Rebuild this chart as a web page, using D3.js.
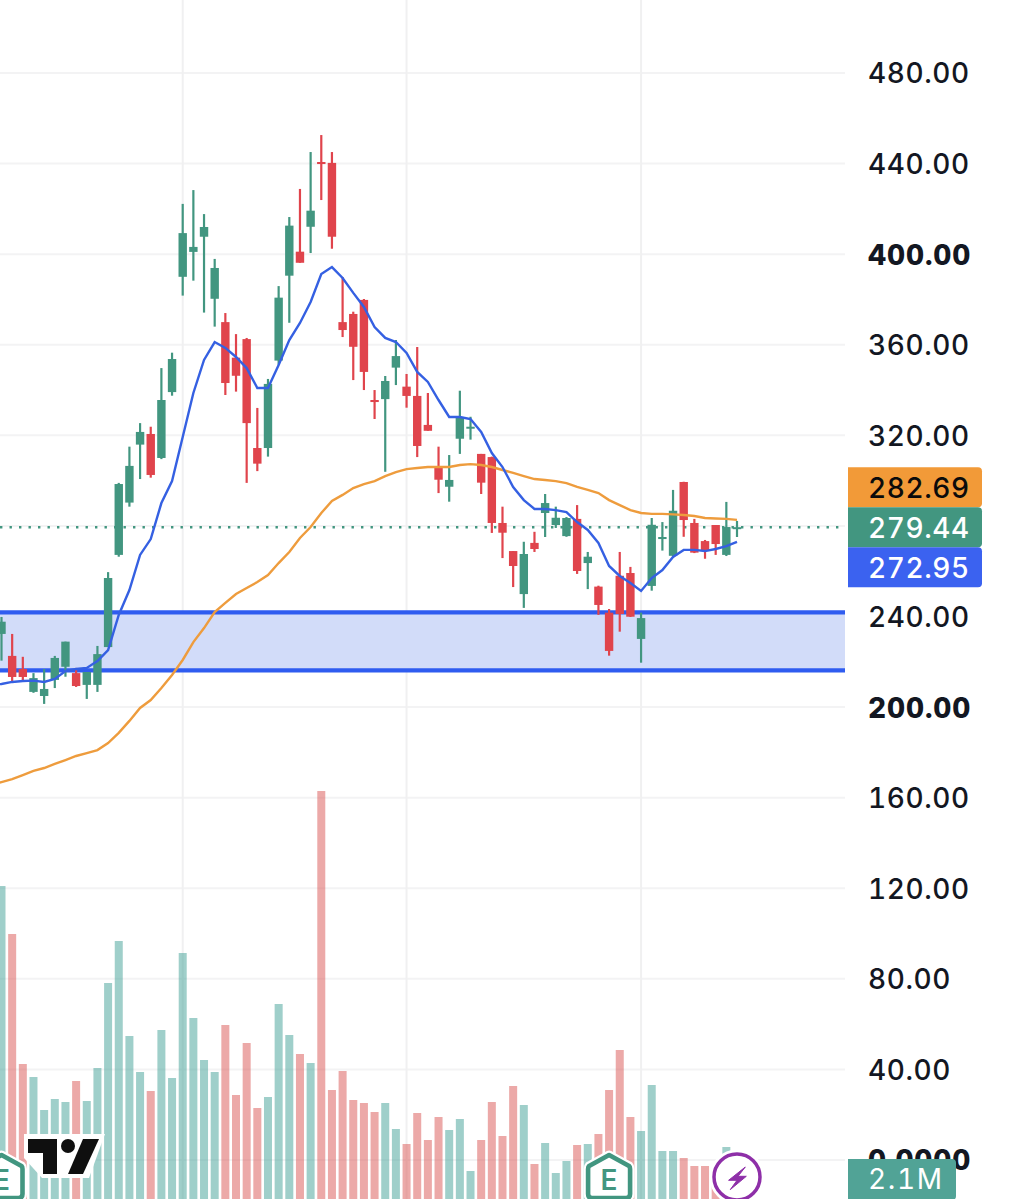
<!DOCTYPE html>
<html>
<head>
<meta charset="utf-8">
<title>chart</title>
<script src="https://cdn.jsdelivr.net/npm/d3@7/dist/d3.min.js"></script>
<style>
body { margin: 0; background: #fff; }
svg { display: block; font-family: Inter, sans-serif; font-variant-numeric: tabular-nums; }
</style>
</head>
<body>
<svg width="1010" height="1199"></svg>
<script>
// Candles
var opens = [232.3,222.6,216.8,206.7,204.9,212.0,217.8,215.0,209.8,209.8,
    226.5,267.2,290.3,315.9,320.6,310.0,339.1,390.0,401.0,407.7,
    380.3,370.0,354.3,362.5,314.4,314.4,353.0,390.5,401.1,412.1,
    440.7,440.3,370.0,373.6,379.8,335.6,336.0,349.9,341.5,337.4,
    324.6,306.1,297.3,318.5,323.2,311.8,310.4,281.3,268.9,249.9,
    272.5,285.7,280.4,275.5,283.1,263.6,253.2,241.7,258.0,259.2,
    230.1,253.5,274.2,266.8,299.4,281.3,273.3,280.4,267.2,278.8];
var closes = [237.7,213.3,213.3,212.8,208.0,221.7,228.9,209.3,215.5,223.4,
    257.0,298.5,306.5,321.5,302.5,335.6,353.7,409.3,403.2,412.0,
    393.9,343.1,346.3,325.4,307.5,342.7,380.8,412.6,396.2,419.2,
    439.8,407.7,366.5,359.1,348.0,334.7,344.0,355.0,337.4,315.3,
    322.0,300.4,300.3,328.1,323.8,299.1,281.3,277.0,262.3,267.6,
    269.8,290.1,283.6,283.5,260.1,266.4,245.1,224.8,241.1,239.9,
    239.3,280.5,275.1,286.7,282.6,268.2,269.1,272.0,279.5,279.44];
var highs = [239.8,232.3,222.2,215.0,216.8,222.6,228.9,217.3,215.5,227.0,
    259.6,299.0,315.0,325.4,323.8,349.7,356.5,422.2,428.3,417.7,
    397.9,374.0,364.7,363.0,332.1,344.9,385.9,416.4,428.8,445.1,
    452.6,445.1,389.9,374.6,380.2,340.0,346.2,362.1,347.1,359.0,
    338.7,315.0,311.3,339.7,328.2,311.8,310.6,288.5,268.9,273.0,
    277.4,294.1,288.5,283.9,289.2,268.5,253.6,243.3,268.5,261.9,
    241.7,283.5,281.7,295.9,299.5,283.1,273.8,280.4,290.6,282.2];
var lows = [220.5,210.8,211.5,206.3,201.4,208.4,213.4,208.9,203.6,206.7,
    226.5,266.4,288.5,300.7,301.3,309.5,337.5,381.7,388.3,374.2,
    368.0,337.8,339.3,299.0,304.2,310.6,351.1,369.7,396.2,400.5,
    423.9,402.4,363.4,344.4,340.0,327.2,303.9,342.2,332.2,310.4,
    322.0,294.5,290.7,311.8,318.1,294.1,276.9,265.8,253.0,243.8,
    268.5,275.1,279.1,275.2,258.8,252.1,240.7,222.7,233.3,239.8,
    219.6,251.4,269.1,266.4,275.2,268.0,265.5,267.2,266.7,275.1];
// Volume in millions
var volumes = [31.4,26.6,13.6,12.3,9.0,10.1,9.8,11.9,9.9,13.2,
    21.7,25.9,16.4,12.8,10.9,17.0,12.2,24.7,18.2,14.0,
    12.8,17.5,10.5,15.7,9.2,10.3,19.6,16.5,14.6,13.7,
    40.9,11.0,12.9,10.0,9.7,8.8,9.7,7.1,5.6,8.7,
    6.0,8.3,7.0,8.1,2.9,6.0,9.8,6.4,11.4,9.5,
    3.6,5.7,2.7,3.9,5.5,5.6,6.6,11.0,15.0,8.3,
    6.9,11.5,4.9,4.9,4.2,3.4,3.4,3.0,5.3,2.1];
// Moving averages, first point is one bar left of the picture
var maFast = [209.8,210.2,211.1,211.5,211.7,211.1,212.4,215.9,216.8,217.3,220.3,
    225.2,240.7,251.7,267.2,274.2,290.1,299.8,319.3,338.7,353.3,
    361.2,358.6,354.6,349.7,340.9,340.9,351.1,362.1,369.6,378.9,
    391.2,394.3,389.5,382.9,376.7,367.8,363.0,361.2,356.4,348.0,
    343.6,335.6,328.1,328.1,327.2,321.5,312.2,306.0,297.2,291.4,
    287.5,287.5,287.0,286.1,281.7,278.2,272.5,262.3,257.9,254.8,
    251.3,257.0,260.5,266.3,269.4,269.4,268.9,269.8,271.1,272.95];
var maSlow = [165.6,166.9,168.2,170.0,171.8,173.1,174.9,176.6,178.4,179.7,181.0,
    184.1,188.6,193.9,199.6,203.1,208.4,214.2,220.8,228.7,234.9,
    242.0,246.0,249.9,252.6,255.2,258.3,263.6,268.5,274.7,279.5,
    285.7,291.0,293.7,296.7,298.5,299.8,302.0,303.8,305.1,305.6,
    306.0,306.0,306.0,306.9,307.3,306.9,306.0,304.7,303.4,302.0,
    300.7,300.3,299.8,298.9,297.2,295.9,294.5,291.4,289.2,287.0,
    285.7,285.3,285.3,285.1,284.8,284.4,283.5,283.3,283.1,282.69];

var priceTicks = [0,40,80,120,160,200,240,280,320,360,400,440,480];
var boldTicks = [0,200,400];
var timeGrid = [17,38,60];
var earningsBars = [0,57];
var bandTop = 241.8;
var bandBottom = 216.2;
var lastPrice = 279.44;
var priceTags = [
    {value: 282.69, offset: -40, fill: '#f29a38', color: '#0b0b0b'},
    {value: 279.44, offset: 0, fill: '#429680', color: '#fff'},
    {value: 272.95, offset: 40, fill: '#3b62f0', color: '#fff'}
];
var volumeTag = 2.1;

var green = '#429680', red = '#e0444c';
var plotRight = 845;

var svg = d3.select('svg');
var x = d3.scaleLinear().domain([0, 69]).range([1.5, 737]);
var y = d3.scaleLinear().domain([0, 480]).range([1160, 73]);
var yVol = d3.scaleLinear().domain([0, 40.9]).range([1200, 791]);

// grid
var plot = svg.append('g');
plot.selectAll('.hgrid').data(priceTicks).enter().append('line')
    .attr('x1', 0).attr('x2', plotRight)
    .attr('y1', function(d) { return y(d); }).attr('y2', function(d) { return y(d); })
    .attr('stroke', '#f3f3f4').attr('stroke-width', 2);
plot.selectAll('.vgrid').data(timeGrid).enter().append('line')
    .attr('x1', function(d) { return x(d); }).attr('x2', function(d) { return x(d); })
    .attr('y1', 0).attr('y2', 1199)
    .attr('stroke', '#f0f0f1').attr('stroke-width', 2);

// band
plot.append('rect')
    .attr('x', 0).attr('width', plotRight)
    .attr('y', y(bandTop)).attr('height', y(bandBottom) - y(bandTop))
    .attr('fill', '#d2dcf9');
plot.selectAll('.bandline').data([bandTop, bandBottom]).enter().append('line')
    .attr('x1', 0).attr('x2', plotRight)
    .attr('y1', function(d) { return y(d); }).attr('y2', function(d) { return y(d); })
    .attr('stroke', '#2f5cf0').attr('stroke-width', 4.4);

// volume
plot.selectAll('.vol').data(volumes).enter().append('rect')
    .attr('x', function(d, i) { return x(i) - 4; })
    .attr('width', 8)
    .attr('y', function(d) { return yVol(d); })
    .attr('height', function(d) { return yVol(0) - yVol(d); })
    .attr('fill', function(d, i) { return closes[i] >= opens[i] ? '#3f9f95' : '#d95351'; })
    .attr('fill-opacity', 0.5);

// last price line
plot.append('line')
    .attr('x1', 0).attr('x2', plotRight)
    .attr('y1', y(lastPrice)).attr('y2', y(lastPrice))
    .attr('stroke', green).attr('stroke-width', 2.6)
    .attr('stroke-dasharray', '2.4 7.1');

// candles
var candles = plot.selectAll('.candle').data(opens).enter().append('g');
candles.append('line')
    .attr('x1', function(d, i) { return x(i); }).attr('x2', function(d, i) { return x(i); })
    .attr('y1', function(d, i) { return y(highs[i]); })
    .attr('y2', function(d, i) { return y(lows[i]); })
    .attr('stroke', function(d, i) { return closes[i] >= d ? green : red; })
    .attr('stroke-width', 2.2);
candles.append('rect')
    .attr('x', function(d, i) { return x(i) - 4.2; })
    .attr('width', 8.4)
    .attr('y', function(d, i) { return y(Math.max(d, closes[i])); })
    .attr('height', function(d, i) { return Math.max(2, Math.abs(y(d) - y(closes[i]))); })
    .attr('fill', function(d, i) { return closes[i] >= d ? green : red; });

// moving averages
var maLine = d3.line()
    .x(function(d, i) { return x(i - 1); })
    .y(function(d) { return y(d); });
plot.append('path').attr('d', maLine(maSlow))
    .attr('fill', 'none').attr('stroke', '#ee9c3d').attr('stroke-width', 2.4);
plot.append('path').attr('d', maLine(maFast))
    .attr('fill', 'none').attr('stroke', '#3560e2').attr('stroke-width', 2.4);

// price axis
var axis = d3.axisRight(y)
    .tickValues(priceTicks.filter(function(d) { return d != 280; }))
    .tickSize(0).tickPadding(0)
    .tickFormat(function(d) { return d == 0 ? '0.0000' : d3.format('.2f')(d); });
var axisG = svg.append('g').attr('transform', 'translate(868,1)').call(axis);
axisG.select('.domain').remove();
axisG.selectAll('text')
    .attr('font-family', 'Inter, sans-serif')
    .attr('font-size', 28)
    .attr('letter-spacing', function(d) { return boldTicks.indexOf(d) >= 0 ? 0.9 : 0.6; })
    .attr('font-weight', function(d) { return boldTicks.indexOf(d) >= 0 ? 800 : 500; })
    .attr('fill', '#131722');

// tags with rounded right corners
function tagPath(left, top, right, bottom, r) {
    var p = d3.path();
    p.moveTo(left, top);
    p.lineTo(right - r, top);
    p.arcTo(right, top, right, top + r, r);
    p.lineTo(right, bottom - r);
    p.arcTo(right, bottom, right - r, bottom, r);
    p.lineTo(left, bottom);
    p.closePath();
    return p.toString();
}
var tags = svg.selectAll('.tag').data(priceTags).enter().append('g');
tags.append('path')
    .attr('d', function(d) {
        var c = y(lastPrice) + d.offset;
        return tagPath(848, c - 20, 982, c + 20, 4);
    })
    .attr('fill', function(d) { return d.fill; });
tags.append('text')
    .attr('x', 868)
    .attr('y', function(d) { return y(lastPrice) + d.offset + 0.5; })
    .attr('dy', '0.36em')
    .attr('font-size', 28).attr('font-weight', 500).attr('letter-spacing', 0.6)
    .attr('fill', function(d) { return d.color; })
    .text(function(d) { return d3.format('.2f')(d.value); });

// volume tag
svg.append('path')
    .attr('d', tagPath(848, yVol(volumeTag) - 20, 956, yVol(volumeTag) + 21, 4))
    .attr('fill', '#51a396');
svg.append('text')
    .attr('x', 868).attr('y', yVol(volumeTag)).attr('dy', '0.36em')
    .attr('font-size', 28).attr('font-weight', 400).attr('letter-spacing', 1.6)
    .attr('fill', '#fff')
    .text(volumeTag + 'M');

// logo
var logo = svg.append('g');
logo.append('path').attr('d', 'M24,1134L105,1134L89,1178L42,1178L24,1158Z').attr('fill', '#fff');
logo.append('path').attr('d', 'M28,1139L57,1139L57,1174L43,1174L43,1153L28,1153Z').attr('fill', '#0f0f0f');
logo.append('circle').attr('cx', 68).attr('cy', 1146).attr('r', 7).attr('fill', '#0f0f0f');
logo.append('path').attr('d', 'M83,1139L99,1139L83,1174L68,1174Z').attr('fill', '#0f0f0f');

// earnings marks
var marks = svg.selectAll('.earn').data(earningsBars).enter().append('g')
    .attr('transform', function(d) { return 'translate(' + x(d) + ',1155)'; });
marks.append('path')
    .attr('d', 'M0,0L20,11Q21,12 21,14L21,39Q21,43 17,43L-17,43Q-21,43 -21,39L-21,14Q-21,12 -20,11Z')
    .attr('fill', '#fff').attr('stroke', '#fff').attr('stroke-width', 9).attr('stroke-linejoin', 'round');
marks.append('path')
    .attr('d', 'M0,0L20,11Q21,12 21,14L21,39Q21,43 17,43L-17,43Q-21,43 -21,39L-21,14Q-21,12 -20,11Z')
    .attr('fill', '#fff').attr('stroke', green).attr('stroke-width', 4.6).attr('stroke-linejoin', 'round');
marks.append('text')
    .attr('y', 25).attr('dy', '0.36em').attr('text-anchor', 'middle')
    .attr('font-size', 28).attr('font-weight', 600)
    .attr('fill', green)
    .text('E');

// lightning mark on last bar
var bolt = svg.append('g').attr('transform', 'translate(' + x(69) + ',1177)');
bolt.append('circle').attr('r', 23).attr('fill', '#fff').attr('stroke', '#fff').attr('stroke-width', 9);
bolt.append('circle').attr('r', 23).attr('fill', '#fff').attr('stroke', '#8e2fa8').attr('stroke-width', 3.5);
bolt.append('path')
    .attr('d', 'M8.3,-10L-8.4,3.3L0,3.3L-6.7,12.6L9.3,-0.7L1,-0.7Z')
    .attr('fill', '#8e2fa8').attr('stroke', '#8e2fa8').attr('stroke-width', 1).attr('stroke-linejoin', 'round');
</script>
</body>
</html>
